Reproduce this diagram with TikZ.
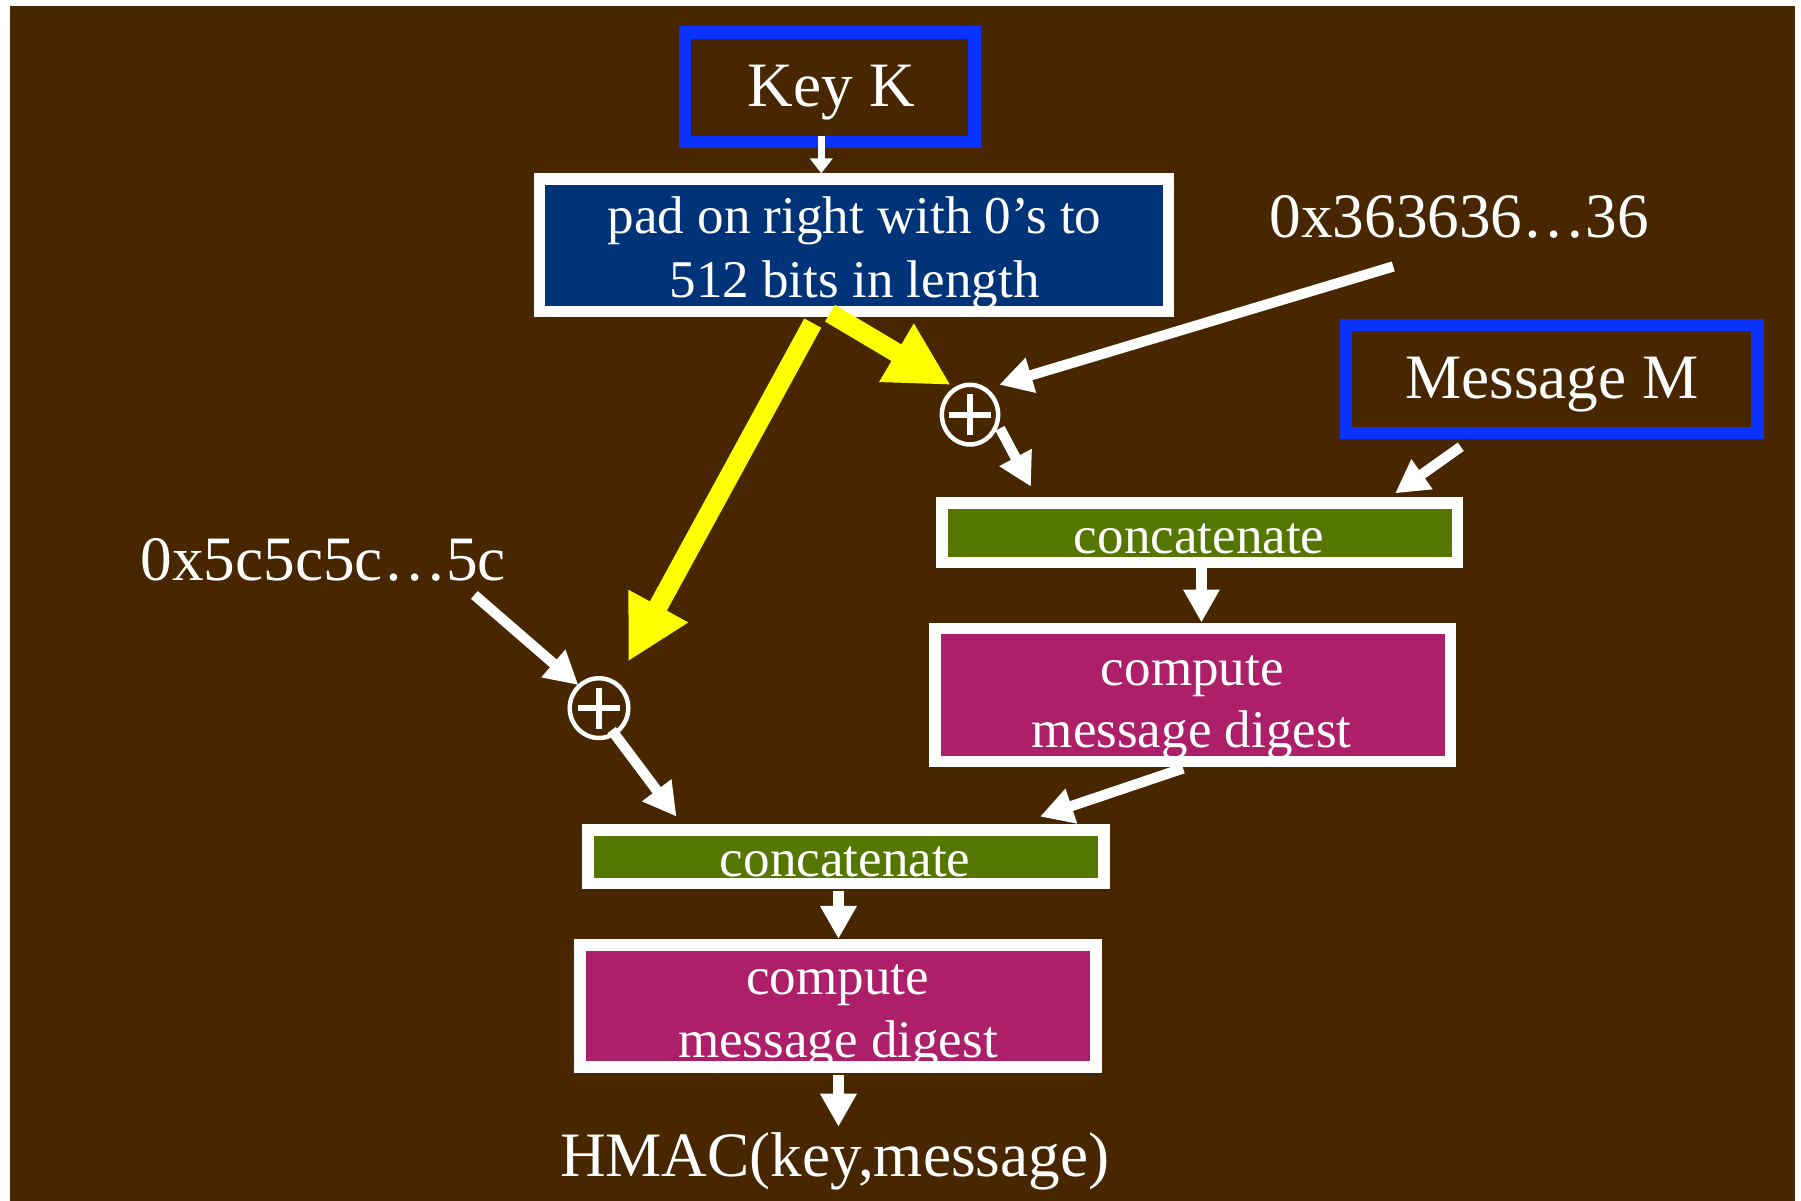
\documentclass[tikz,border=0pt]{standalone}
\usepackage{fontspec}
\setmainfont{Liberation Serif}
\usetikzlibrary{arrows.meta,shapes.geometric}
\definecolor{hmbrown}{RGB}{72,38,0}
\definecolor{hmnavy}{RGB}{0,51,119}
\definecolor{hmgreen}{RGB}{85,119,0}
\definecolor{hmmag}{RGB}{173,31,105}
\definecolor{hmblue}{RGB}{10,50,255}
\definecolor{hmyellow}{RGB}{255,255,0}
\newcommand\shu{0.011486cm}
\tikzset{
  bluebox/.style={draw=hmblue, line width=3.58pt, inner sep=0pt},
  whitebox/.style={draw=white, line width=3.26pt, inner sep=0pt},
  bigtxt/.style={text=white, font=\fontsize{18}{21}\selectfont, inner sep=0pt, anchor=base},
  medtxt/.style={text=white, font=\fontsize{15.1}{18}\selectfont, inner sep=0pt, anchor=base},
  warrow/.style={draw=white, line width=2.93pt, -{Triangle[width=9.8pt,length=9.4pt]}},
  karrow/.style={draw=white, line width=2pt, -{Triangle[width=6.3pt,length=4.3pt]}},
  yarrow/.style={draw=hmyellow, line width=5.5pt, -{Triangle[width=18pt,length=18pt]}},
  xorc/.style={ellipse, draw=white, line width=1.27pt, inner sep=0pt},
  plusbar/.style={draw=white, line width=1.7pt}
}
\begin{document}
\begin{tikzpicture}[x=0.011486cm, y=-0.011486cm]
\useasboundingbox (0,0) rectangle (1568,1045.6);
\fill[white] (0,0) rectangle (1568,1045.6);
\fill[hmbrown] (8.7,5.2) rectangle (1562.8,1045.6);

% boxes
\node[bluebox, minimum width=252*\shu, minimum height=95*\shu] (key) at (722.5,76) {};
\node[whitebox, fill=hmnavy, minimum width=548*\shu, minimum height=115*\shu] (pad) at (743.5,213.5) {};
\node[bluebox, minimum width=358*\shu, minimum height=94*\shu] (msg) at (1351,330) {};
\node[whitebox, fill=hmgreen, minimum width=449*\shu, minimum height=51.6*\shu] (cat1) at (1044.5,463.8) {};
\node[whitebox, fill=hmmag, minimum width=449*\shu, minimum height=116*\shu] (dig1) at (1038.5,605) {};
\node[whitebox, fill=hmgreen, minimum width=449*\shu, minimum height=46.5*\shu] (cat2) at (736.5,745.8) {};
\node[whitebox, fill=hmmag, minimum width=449*\shu, minimum height=106.5*\shu] (dig2) at (729.5,875.8) {};

% xor symbols
\node[xorc, minimum width=49*\shu, minimum height=52*\shu] (xor1) at (844.5,361) {};
\node[xorc, minimum width=51*\shu, minimum height=52*\shu] (xor2) at (521.5,616.5) {};
\draw[plusbar] (xor1.center) +(-18.4,0) -- +(18.4,0);
\draw[plusbar] (xor1.center) +(0,-17.8) -- +(0,17.8);
\draw[plusbar] (xor2.center) +(-18.4,0) -- +(18.4,0);
\draw[plusbar] (xor2.center) +(0,-17.8) -- +(0,17.8);

% texts
\node[bigtxt] (keyt) at (723.8,92.9) {Key K};
\node[medtxt] (padt1) at (744,203) {pad on right with 0’s to};
\node[medtxt] (padt2) at (744,259) {512 bits in length};
\node[bigtxt] (ipadv) at (1270.5,207) {0x363636…36};
\node[bigtxt] (msgt) at (1351,346.7) {Message M};
\node[medtxt] (cat1t) at (1044,482) {concatenate};
\node[medtxt] (dig1t1) at (1038,597) {compute};
\node[medtxt] (dig1t2) at (1037.5,651) {message digest};
\node[bigtxt] (opadv) at (281.5,505) {0x5c5c5c…5c};
\node[medtxt] (cat2t) at (735.8,762.7) {concatenate};
\node[medtxt] (dig2t1) at (729.3,866) {compute};
\node[medtxt] (dig2t2) at (729.5,921) {message digest};
\node[bigtxt] (hmac) at (726.6,1024.5) {HMAC(key,message)};

% connector end points
\coordinate (k1) at (715,118);
\coordinate (k2) at (715,151);
\coordinate (y1s) at (722.6,272.7);
\coordinate (y1e) at (827.8,335.2);
\coordinate (y2s) at (707.6,281.3);
\coordinate (y2e) at (546.8,576);
\coordinate (i1) at (1213,232);
\coordinate (i2) at (870,335);
\coordinate (x1s) at (870.6,372.9);
\coordinate (x1e) at (897.6,423.7);
\coordinate (m1) at (1271.8,389);
\coordinate (m2) at (1214.6,429.5);
\coordinate (c1s) at (1046,494);
\coordinate (c1e) at (1046,542);
\coordinate (o1) at (413,518);
\coordinate (o2) at (503.5,596.4);
\coordinate (x2s) at (532.5,635.6);
\coordinate (x2e) at (589,711);
\coordinate (d1s) at (1030,669);
\coordinate (d1e) at (905.5,711);
\coordinate (c2s) at (730,775.7);
\coordinate (c2e) at (730,817.5);
\coordinate (d2s) at (730,936);
\coordinate (d2e) at (730,981);

% connectors
\draw[karrow] (k1) -- (k2);
\draw[yarrow] (y1s) -- (y1e);
\draw[yarrow] (y2s) -- (y2e);
\draw[warrow] (i1) -- (i2);
\draw[warrow] (x1s) -- (x1e);
\draw[warrow] (m1) -- (m2);
\draw[warrow] (c1s) -- (c1e);
\draw[warrow] (o1) -- (o2);
\draw[warrow] (x2s) -- (x2e);
\draw[warrow] (d1s) -- (d1e);
\draw[warrow] (c2s) -- (c2e);
\draw[warrow] (d2s) -- (d2e);
\end{tikzpicture}
\end{document}
